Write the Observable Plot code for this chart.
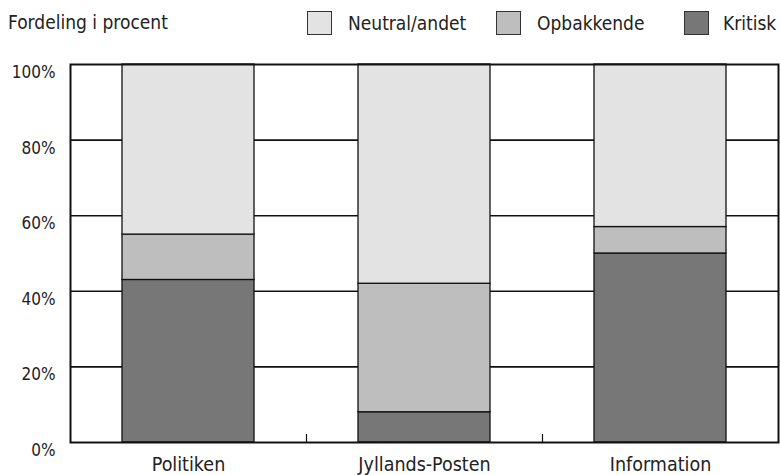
<!DOCTYPE html>
<html>
<head>
<meta charset="utf-8">
<script src="https://cdn.jsdelivr.net/npm/d3@7"></script>
<script src="https://cdn.jsdelivr.net/npm/@observablehq/plot@0.6"></script>
<style>
  html, body { margin: 0; padding: 0; background: #fff; }
  body { width: 780px; height: 475px; overflow: hidden; font-family: "DejaVu Sans Condensed", sans-serif; color: #222; }
  #header { position: relative; height: 48px; }
  #title { position: absolute; left: 8px; top: 11px; font-size: 19px; }
  .item { position: absolute; top: 11px; display: flex; align-items: center; font-size: 19px; }
  .sw { width: 25px; height: 24px; border: 1px solid #333; box-sizing: border-box; margin-right: 16px; }
</style>
</head>
<body>
<div id="header"><div id="title">Fordeling i procent</div></div>
<div id="chart"></div>
<script>
const categories = ["Politiken", "Jyllands-Posten", "Information"];
const seriesNames = ["Kritisk", "Opbakkende", "Neutral/andet"];
const kritisk = [43, 8, 50];
const opbakkende = [12, 34, 7];
const neutral = [45, 58, 43];
const colors = ["#777777", "#bebebe", "#e3e3e3"];
const yTicks = [0, 20, 40, 60, 80, 100];
const legendOrder = ["Neutral/andet", "Opbakkende", "Kritisk"];
const legendLeft = [307, 496, 684];

const seriesValues = [kritisk, opbakkende, neutral];
const data = [];
seriesNames.forEach((s, si) => categories.forEach((c, ci) => data.push({category: c, series: s, value: seriesValues[si][ci]})));

const header = document.getElementById("header");
legendOrder.forEach((name, i) => {
  const d = document.createElement("div");
  d.className = "item";
  d.style.left = legendLeft[i] + "px";
  const sw = document.createElement("div");
  sw.className = "sw";
  sw.style.background = colors[seriesNames.indexOf(name)];
  if (name === "Kritisk") sw.style.marginRight = "14px";
  d.appendChild(sw);
  d.appendChild(document.createTextNode(name));
  header.appendChild(d);
});

const width = 780, height = 427, mL = 70, mR = 2, mT = 16, mB = 33;
const step = (width - mL - mR) / categories.length;

const chart = Plot.plot({
  width, height,
  marginLeft: mL, marginRight: mR, marginTop: mT, marginBottom: mB,
  style: {fontFamily: '"DejaVu Sans Condensed", sans-serif', fontSize: "17px", color: "#222", background: "#fff"},
  x: {domain: categories, paddingInner: 0.44, paddingOuter: 0.22, label: null},
  y: {domain: [0, 100], ticks: yTicks, label: null},
  color: {domain: seriesNames, range: colors},
  marks: [
    Plot.ruleY(yTicks.slice(1, -1), {stroke: "#111", strokeWidth: 1.6}),
    Plot.ruleX(categories.slice(1), {x: d => d, dx: -step / 2, stroke: "#111", strokeWidth: 1.2, insetTop: (height - mT - mB) - 8}),
    Plot.barY(data, Plot.stackY({x: "category", y: "value", fill: "series", order: seriesNames, stroke: "#111", strokeWidth: 1.3})),
    Plot.frame({stroke: "#111", strokeWidth: 2}),
    Plot.axisY({ticks: yTicks, tickFormat: d => d + "%", tickSize: 0, tickPadding: 15, dy: 8, label: null, fontSize: 17}),
    Plot.axisX({tickSize: 0, tickPadding: 15, label: null, fontSize: 19.5})
  ]
});
document.getElementById("chart").appendChild(chart);
</script>
</body>
</html>
